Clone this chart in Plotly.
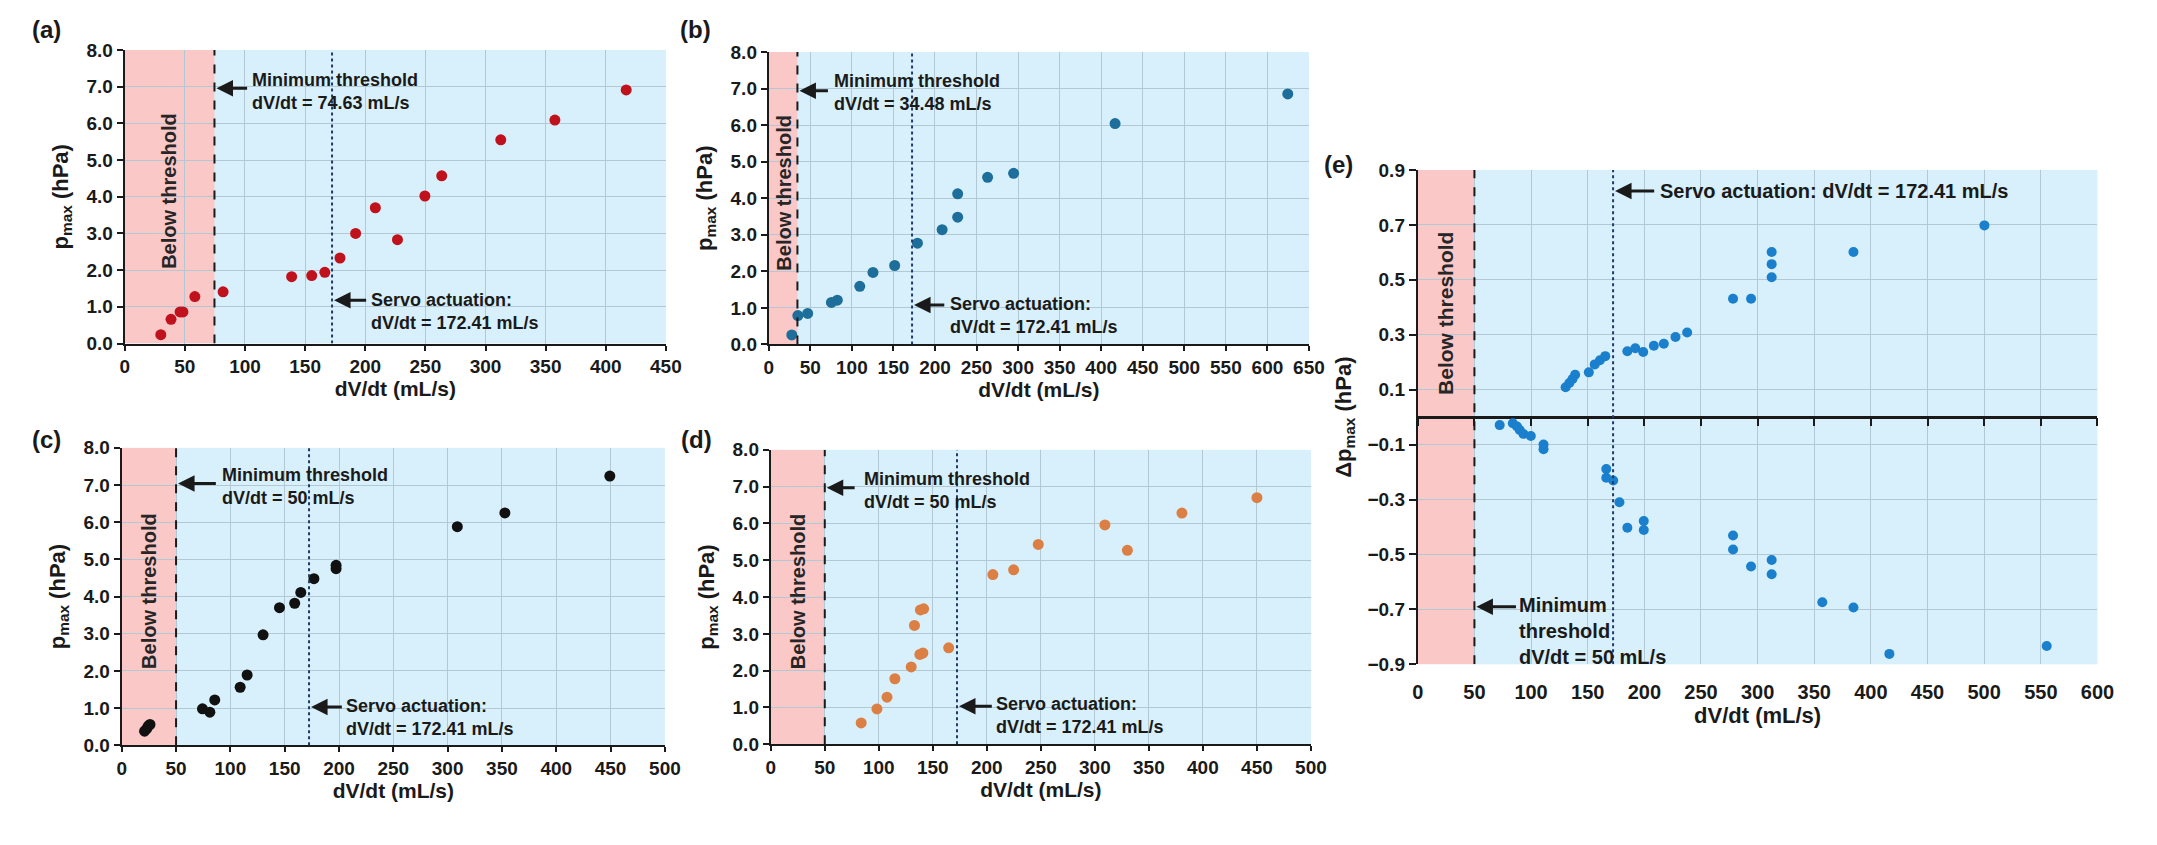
import plotly.graph_objects as go

W, H = 2157, 845

# ---------------- data ----------------
a_x = [30, 38.5, 46, 48.4, 58.3, 81.8, 138.8, 155.5, 166.4, 179, 192, 208.4, 226.8, 249.6, 263.6, 312.7, 357.7, 417]
a_y = [0.24, 0.66, 0.86, 0.86, 1.28, 1.41, 1.82, 1.85, 1.94, 2.33, 3.00, 3.70, 2.83, 4.02, 4.57, 5.55, 6.09, 6.91]

b_x = [27.7, 35, 46.8, 75.4, 82.5, 109.5, 125.4, 151.5, 178.9, 208.6, 227.3, 227.3, 263.3, 294.6, 416.7, 624.5]
b_y = [0.26, 0.79, 0.85, 1.15, 1.21, 1.59, 1.97, 2.16, 2.77, 3.14, 3.48, 4.12, 4.57, 4.68, 6.04, 6.85]

c_x = [21, 23, 24.5, 26, 74.3, 81.1, 85.6, 109, 115.4, 130.1, 145.2, 159.2, 164.8, 176.9, 197.3, 197.3, 308.9, 352.7, 449.3]
c_y = [0.38, 0.45, 0.52, 0.56, 0.98, 0.89, 1.22, 1.56, 1.89, 2.97, 3.70, 3.82, 4.11, 4.48, 4.75, 4.84, 5.88, 6.25, 7.24]

d_x = [83.7, 98.3, 107.6, 114.9, 130, 133, 138.5, 141.5, 138, 140.8, 164.7, 205.6, 224.8, 247.6, 309.3, 330.1, 380.6, 450]
d_y = [0.58, 0.96, 1.28, 1.78, 2.10, 3.23, 3.65, 3.68, 2.44, 2.48, 2.62, 4.61, 4.74, 5.43, 5.96, 5.27, 6.28, 6.70]

e_pos_x = [130.5, 133.8, 136.6, 138.9, 151, 156.2, 160.8, 165.5, 185, 192, 199, 208.4, 217.2, 227.5, 237.8,
           278.3, 294.2, 312.4, 312.4, 312.4, 384.6, 500.2]
e_pos_y = [0.109, 0.124, 0.139, 0.154, 0.163, 0.192, 0.207, 0.222, 0.240, 0.251, 0.237, 0.260, 0.267, 0.292, 0.308,
           0.431, 0.431, 0.509, 0.557, 0.601, 0.601, 0.698]
e_neg_x = [72.3, 83.9, 87.6, 90, 93.2, 99.8, 111, 111, 166.4, 166.4, 172.5, 178, 185, 199.5, 199.5,
           278.3, 278.3, 294.2, 312.4, 312.4, 357.1, 384.6, 416.3, 555.2]
e_neg_y = [-0.029, -0.022, -0.034, -0.047, -0.061, -0.069, -0.100, -0.117, -0.189, -0.221, -0.231, -0.310, -0.403,
           -0.378, -0.411, -0.431, -0.482, -0.544, -0.520, -0.572, -0.674, -0.693, -0.862, -0.833]

thresholds = [74.63, 34.48, 50, 50, 50]
threshold_labels = ["74.63", "34.48", "50", "50", "50"]
servo = 172.41
x_max = [450, 650, 500, 500, 600]
panel_labels = ["(a)", "(b)", "(c)", "(d)", "(e)"]

# ---------------- style ----------------
BLUE_BG = "#d8f0fb"
PINK = "#fbc8c8"
GRID = "#b2c9d5"
AX = "#1a1a1a"
SERVO_C = "#1f3a6b"
COLORS = ["#c0121c", "#1d6e9a", "#111111", "#dc7f45", "#1a7fcc"]
FONT = "Liberation Sans, Arial, sans-serif"
NARROW = "Liberation Sans Narrow, Arial Narrow, Liberation Sans, sans-serif"

# panel boxes in page pixels (left, right, top, bottom)
boxes = [(120, 667, 41, 342), (771, 1317, 43, 343), (117, 666, 449, 754), (773, 1319, 451, 753), (1427, 2114, 164, 671)]
label_px = [(41, 20), (697, 20), (41, 440), (698, 440), (1347, 158)]


def xdom(b):
    return [b[0] / W, b[1] / W]


def ydom(b):
    return [1 - b[3] / H, 1 - b[2] / H]


fig = go.Figure()
layout = dict(width=W, height=H, margin=dict(l=0, r=0, t=0, b=0), paper_bgcolor="white",
              plot_bgcolor=BLUE_BG, showlegend=False, font=dict(family=FONT, color=AX))
shapes, annos = [], []

series = [(a_x, a_y), (b_x, b_y), (c_x, c_y), (d_x, d_y)]

# annotation placements for panels a-d: (min arrow y, min arrow tail x, min text x, min text y,
#                                        servo arrow y, servo tail x, servo text x, servo text y)
place = [
    (6.96, 103, 104, 6.87, 1.18, 202, 203, 0.88),
    (6.94, 73, 76, 6.89, 1.08, 213, 216, 0.80),
    (7.04, 88, 90, 6.95, 1.03, 204, 205, 0.74),
    (6.97, 79, 84, 6.90, 1.03, 206, 207, 0.77),
]

ANNO_FONT = dict(size=18, family=NARROW, color=AX, weight="bold")

for i in range(4):
    n = "" if i == 0 else str(i + 1)
    xr, yr = "x" + n, "y" + n
    b = boxes[i]
    xs, ys = series[i]
    fig.add_trace(go.Scatter(x=xs, y=ys, mode="markers", xaxis=xr, yaxis=yr,
                             marker=dict(size=11, color=COLORS[i], line=dict(width=0))))
    layout["xaxis" + n] = dict(domain=xdom(b), anchor=yr, range=[0, x_max[i]], dtick=50, tick0=0,
                               showgrid=True, gridcolor=GRID, gridwidth=1, zeroline=False,
                               showline=True, linecolor=AX, linewidth=2, ticks="outside", ticklen=5,
                               tickwidth=2, tickcolor=AX,
                               tickfont=dict(size=19, family=FONT, color=AX, weight="bold"),
                               title=dict(text="dV/dt (mL/s)", standoff=0,
                                          font=dict(size=21, family=FONT, color=AX, weight="bold")))
    layout["yaxis" + n] = dict(domain=ydom(b), anchor=xr, range=[0, 8], dtick=1, tick0=0, tickformat=".1f",
                               showgrid=True, gridcolor=GRID, gridwidth=1, zeroline=False,
                               showline=True, linecolor=AX, linewidth=2, ticks="outside", ticklen=6,
                               tickwidth=2, tickcolor=AX,
                               tickfont=dict(size=19, family=FONT, color=AX, weight="bold"),
                               title=dict(text="p<sub>max</sub> (hPa)", standoff=12,
                                          font=dict(size=22, family=FONT, color=AX, weight="bold")))
    thr = thresholds[i]
    shapes.append(dict(type="rect", xref=xr, yref=yr, x0=0, x1=thr, y0=0, y1=8, fillcolor=PINK,
                       line=dict(width=0), layer="below"))
    shapes.append(dict(type="line", xref=xr, yref=yr, x0=thr, x1=thr, y0=0, y1=8,
                       line=dict(color=AX, width=2, dash="dash")))
    shapes.append(dict(type="line", xref=xr, yref=yr, x0=servo, x1=servo, y0=0, y1=8,
                       line=dict(color=SERVO_C, width=2, dash="dot")))
    p = place[i]
    annos.append(dict(xref=xr, yref=yr, x=thr, y=p[0], ax=p[1], ay=p[0], axref=xr, ayref=yr, text="",
                      showarrow=True, arrowhead=2, arrowsize=1.1, arrowwidth=3, arrowcolor=AX, standoff=2))
    annos.append(dict(xref=xr, yref=yr, x=p[2], y=p[3], xanchor="left", yanchor="middle", align="left",
                      showarrow=False, text="Minimum threshold<br>dV/dt = %s mL/s" % threshold_labels[i],
                      font=ANNO_FONT))
    annos.append(dict(xref=xr, yref=yr, x=servo, y=p[4], ax=p[5], ay=p[4], axref=xr, ayref=yr, text="",
                      showarrow=True, arrowhead=2, arrowsize=1.1, arrowwidth=3, arrowcolor=AX, standoff=2))
    annos.append(dict(xref=xr, yref=yr, x=p[6], y=p[7], xanchor="left", yanchor="middle", align="left",
                      showarrow=False, text="Servo actuation:<br>dV/dt = 172.41 mL/s", font=ANNO_FONT))
    annos.append(dict(xref=xr, yref=yr, x=thr / 2 if i != 1 else thr / 2 + 1, y=4.15, textangle=-90,
                      showarrow=False, text="Below threshold",
                      font=dict(size=20, family=FONT, color="#262626", weight="bold")))

# ---------------- panel (e) ----------------
b = boxes[4]
fig.add_trace(go.Scatter(x=e_pos_x, y=e_pos_y, mode="markers", xaxis="x5", yaxis="y5",
                         marker=dict(size=10, color=COLORS[4], line=dict(width=0))))
fig.add_trace(go.Scatter(x=e_neg_x, y=e_neg_y, mode="markers", xaxis="x6", yaxis="y5",
                         marker=dict(size=10, color=COLORS[4], line=dict(width=0))))
e_yr = [-0.9, 0.9]
ydm = ydom(b)
zero_pos = ydm[0] + (0 - e_yr[0]) / (e_yr[1] - e_yr[0]) * (ydm[1] - ydm[0])
layout["xaxis5"] = dict(domain=xdom(b), anchor="y5", range=[0, x_max[4]], dtick=50, tick0=0,
                        showgrid=True, gridcolor=GRID, gridwidth=1, zeroline=False, showline=False,
                        ticks="", ticklabelstandoff=14,
                        tickfont=dict(size=20, family=NARROW, color=AX, weight="bold"),
                        title=dict(text="dV/dt (mL/s)", standoff=4,
                                   font=dict(size=22, family=NARROW, color=AX, weight="bold")))
layout["xaxis6"] = dict(overlaying="x5", anchor="free", position=zero_pos, range=[0, x_max[4]], dtick=50,
                        tick0=0, showgrid=False, zeroline=False, showline=False, ticks="outside",
                        ticklen=8, tickwidth=2, tickcolor=AX, showticklabels=False)
layout["yaxis5"] = dict(domain=ydm, anchor="x5", range=e_yr, dtick=0.2, tick0=0.1, tickformat=".1f",
                        showgrid=True, gridcolor=GRID, gridwidth=1, zeroline=True, zerolinecolor=AX,
                        zerolinewidth=3, showline=True, linecolor=AX, linewidth=2, ticks="outside",
                        ticklen=7, tickwidth=2, tickcolor=AX,
                        tickfont=dict(size=19, family=NARROW, color=AX, weight="bold"),
                        title=dict(text="\u0394p<sub>max</sub> (hPa)", standoff=10,
                                   font=dict(size=22, family=FONT, color=AX, weight="bold")))
thr = thresholds[4]
shapes.append(dict(type="rect", xref="x5", yref="y5", x0=0, x1=thr, y0=e_yr[0], y1=e_yr[1], fillcolor=PINK,
                   line=dict(width=0), layer="below"))
shapes.append(dict(type="line", xref="x5", yref="y5", x0=thr, x1=thr, y0=e_yr[0], y1=e_yr[1],
                   line=dict(color=AX, width=2, dash="dash")))
shapes.append(dict(type="line", xref="x5", yref="y5", x0=servo, x1=servo, y0=e_yr[0], y1=e_yr[1],
                   line=dict(color=SERVO_C, width=2, dash="dot")))
annos.append(dict(xref="x5", yref="y5", x=servo, y=0.823, ax=210, ay=0.823, axref="x5", ayref="y5", text="",
                  showarrow=True, arrowhead=2, arrowsize=1.1, arrowwidth=3, arrowcolor=AX, standoff=2))
annos.append(dict(xref="x5", yref="y5", x=212, y=0.823, xanchor="left", yanchor="middle", align="left",
                  showarrow=False, text="Servo actuation: dV/dt = 172.41 mL/s",
                  font=dict(size=20, family=NARROW, color=AX, weight="bold")))
annos.append(dict(xref="x5", yref="y5", x=thr, y=-0.69, ax=88, ay=-0.69, axref="x5", ayref="y5", text="",
                  showarrow=True, arrowhead=2, arrowsize=1.1, arrowwidth=3, arrowcolor=AX, standoff=2))
annos.append(dict(xref="x5", yref="y5", x=88, y=-0.778, xanchor="left", yanchor="middle", align="left",
                  showarrow=False, text="Minimum<br>threshold<br>dV/dt = 50 mL/s",
                  font=dict(size=20, family=NARROW, color=AX, weight="bold")))
annos.append(dict(xref="x5", yref="y5", x=thr / 2, y=0.376, textangle=-90, showarrow=False,
                  text="Below threshold", font=dict(size=21, family=FONT, color="#262626", weight="bold")))

# panel letters
for lab, (px, py) in zip(panel_labels, label_px):
    annos.append(dict(xref="paper", yref="paper", x=px / W, y=1 - py / H, xanchor="center", yanchor="middle",
                      showarrow=False, text=lab, font=dict(size=24, family=FONT, color=AX, weight="bold")))

layout["shapes"] = shapes
layout["annotations"] = annos
fig.update_layout(**layout)
fig.write_html("out.html")
